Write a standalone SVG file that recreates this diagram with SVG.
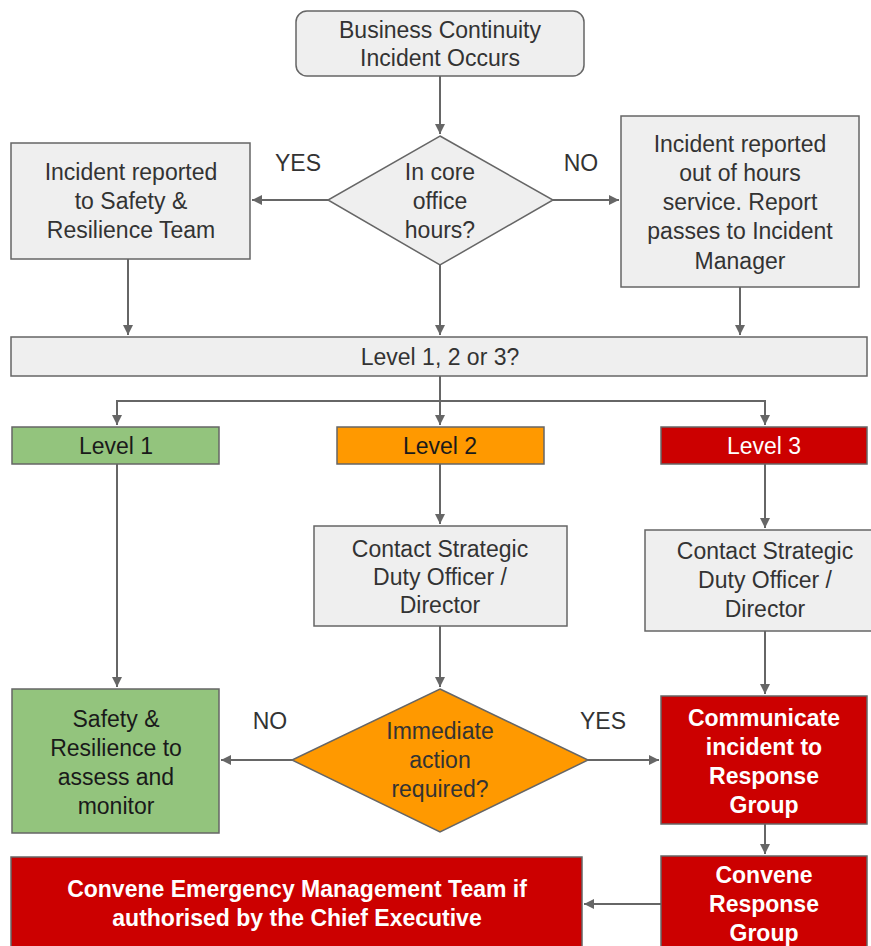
<svg xmlns="http://www.w3.org/2000/svg" width="871" height="946" viewBox="0 0 871 946">
<defs>
<style>
.g{fill:#efefef;stroke:#666;stroke-width:1.5}
.gr{fill:#93c47d;stroke:#666;stroke-width:1.5}
.or{fill:#ff9900;stroke:#666;stroke-width:1.5}
.rd{fill:#cc0000;stroke:#666;stroke-width:1.5}
text{font-family:"Liberation Sans",Arial,sans-serif;font-size:23px;text-anchor:middle;dominant-baseline:central;fill:#333}
.w{fill:#fff}
.b{font-weight:bold}
.k{fill:#1a1a1a}
.c{fill:none;stroke:#666;stroke-width:2}
</style>
<marker id="a" viewBox="0 0 10 10" refX="10" refY="5" markerWidth="11" markerHeight="10" markerUnits="userSpaceOnUse" orient="auto"><path d="M0,0 L10,5 L0,10 z" fill="#666"/></marker>
</defs>
<rect width="871" height="946" fill="#fff"/>
<g id="connectors">
<path class="c" d="M440,76 V134" marker-end="url(#a)"/>
<path class="c" d="M328,200 H252" marker-end="url(#a)"/>
<path class="c" d="M553,200 H619" marker-end="url(#a)"/>
<path class="c" d="M128,259 V335" marker-end="url(#a)"/>
<path class="c" d="M440,265 V335" marker-end="url(#a)"/>
<path class="c" d="M740,287 V335" marker-end="url(#a)"/>
<path class="c" d="M440,376 V425" marker-end="url(#a)"/>
<path class="c" d="M440,401 H117 V425" marker-end="url(#a)"/>
<path class="c" d="M440,401 H765 V425" marker-end="url(#a)"/>
<path class="c" d="M117,464 V687" marker-end="url(#a)"/>
<path class="c" d="M440,464 V524" marker-end="url(#a)"/>
<path class="c" d="M765,464 V528" marker-end="url(#a)"/>
<path class="c" d="M440,626 V687" marker-end="url(#a)"/>
<path class="c" d="M765,631 V694" marker-end="url(#a)"/>
<path class="c" d="M292,760 H221" marker-end="url(#a)"/>
<path class="c" d="M588,760 H659" marker-end="url(#a)"/>
<path class="c" d="M765,824 V854" marker-end="url(#a)"/>
<path class="c" d="M661,904 H584" marker-end="url(#a)"/>
</g>
<g id="start"><rect class="g" x="296" y="11" width="288" height="65" rx="11"/><text x="440" y="30">Business Continuity</text><text x="440" y="58">Incident Occurs</text></g>
<g id="core-hours"><polygon class="g" points="440,136 553,200 440,265 328,200"/><text x="440" y="172">In core</text><text x="440" y="201">office</text><text x="440" y="230">hours?</text></g>
<text x="298" y="163">YES</text>
<text x="581" y="163">NO</text>
<g id="reported-sr"><rect class="g" x="11" y="143" width="239" height="116"/><text x="131" y="172">Incident reported</text><text x="131" y="201">to Safety &amp;</text><text x="131" y="230">Resilience Team</text></g>
<g id="reported-ooh"><rect class="g" x="621" y="116" width="238" height="171"/><text x="740" y="144">Incident reported</text><text x="740" y="173">out of hours</text><text x="740" y="202">service. Report</text><text x="740" y="231">passes to Incident</text><text x="740" y="261">Manager</text></g>
<g id="level-q"><rect class="g" x="11" y="337" width="856" height="39"/><text x="440" y="357">Level 1, 2 or 3?</text></g>
<g id="level1"><rect class="gr" x="12" y="427" width="207" height="37"/><text class="k" x="116" y="446">Level 1</text></g>
<g id="level2"><rect class="or" x="337" y="427" width="207" height="37"/><text class="k" x="440" y="446">Level 2</text></g>
<g id="level3"><rect class="rd" x="661" y="427" width="206" height="37"/><text class="w" x="764" y="446">Level 3</text></g>
<g id="contact2"><rect class="g" x="314" y="526" width="253" height="100"/><text x="440" y="549">Contact Strategic</text><text x="440" y="577">Duty Officer /</text><text x="440" y="605">Director</text></g>
<g id="contact3"><rect class="g" x="645" y="530" width="230" height="101"/><text x="765" y="551">Contact Strategic</text><text x="765" y="580">Duty Officer /</text><text x="765" y="609">Director</text></g>
<g id="safety"><rect class="gr" x="12" y="689" width="207" height="144"/><text class="k" x="116" y="719">Safety &amp;</text><text class="k" x="116" y="748">Resilience to</text><text class="k" x="116" y="777">assess and</text><text class="k" x="116" y="806">monitor</text></g>
<g id="immediate"><polygon class="or" points="440,689 588,760 440,832 292,760"/><text x="440" y="731">Immediate</text><text x="440" y="760">action</text><text x="440" y="789">required?</text></g>
<text x="270" y="721">NO</text>
<text x="603" y="721">YES</text>
<g id="communicate"><rect class="rd" x="661" y="696" width="206" height="128"/><text class="w b" x="764" y="718">Communicate</text><text class="w b" x="764" y="747">incident to</text><text class="w b" x="764" y="776">Response</text><text class="w b" x="764" y="805">Group</text></g>
<g id="convene-rg"><rect class="rd" x="661" y="856" width="206" height="96"/><text class="w b" x="764" y="875">Convene</text><text class="w b" x="764" y="904">Response</text><text class="w b" x="764" y="933">Group</text></g>
<g id="emt"><rect class="rd" x="11" y="857" width="571" height="95"/><text class="w b" x="297" y="889">Convene Emergency Management Team if</text><text class="w b" x="297" y="918">authorised by the Chief Executive</text></g>
</svg>
